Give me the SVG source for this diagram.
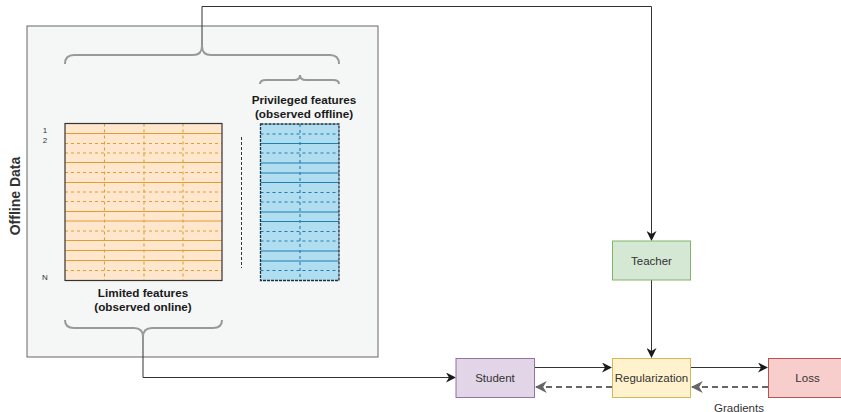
<svg xmlns="http://www.w3.org/2000/svg" width="841" height="412" viewBox="0 0 841 412">
<style>
  text { font-family: "Liberation Sans", Arial, sans-serif; fill: #333; }
  .lbl { font-size: 11.5px; text-anchor: middle; dominant-baseline: central; }
  .bold { font-size: 11.7px; font-weight: bold; text-anchor: middle; fill: #1a1a1a; }
  .brace { fill: none; stroke: #999; stroke-width: 2; }
  .conn { fill: none; stroke: #333; stroke-width: 1; }
  .back { fill: none; stroke: #666; stroke-width: 2; stroke-dasharray: 6 4; }
  .og { stroke: #dfa032; stroke-width: 1.1; }
  .bg { stroke: #1f7fae; stroke-width: 1.1; }
  .dsh { stroke-dasharray: 3 3; }
</style>
<defs>
  <marker id="ah" viewBox="0 0 10 10" refX="9" refY="5" markerWidth="10" markerHeight="10" markerUnits="userSpaceOnUse" orient="auto">
    <path d="M0,0 L10,5 L0,10 L3,5 Z" fill="#1a1a1a"/>
  </marker>
  <marker id="ahg" viewBox="0 0 10 10" refX="9" refY="5" markerWidth="12" markerHeight="12" markerUnits="userSpaceOnUse" orient="auto">
    <path d="M0,0 L10,5 L0,10 L3,5 Z" fill="#666"/>
  </marker>
</defs>

<g id="offline-panel">
  <rect x="27" y="26" width="351" height="331" fill="#f5f6f6" stroke="#666" stroke-width="1"/>
  <text transform="translate(20,196) rotate(-90)" font-size="14" font-weight="bold" text-anchor="middle" fill="#1a1a1a">Offline Data</text>
</g>

<g id="braces">
  <path class="brace" d="M65,64 Q65,55 74,55 L193,55 Q202,55 202,46 Q202,55 211,55 L330,55 Q339,55 339,64"/>
  <path class="brace" d="M260,84 Q260,80 266,80 L294,80 Q300,80 300,75 Q300,80 306,80 L333,80 Q339,80 339,84"/>
  <path class="brace" d="M65,320 Q65,328 74,328 L134,328 Q143,328 143,337 Q143,328 152,328 L213,328 Q222,328 222,320"/>
</g>

<g id="limited-matrix">
  <rect x="65" y="123.5" width="157" height="157" fill="#ffe6cc"/>
  <g class="og dsh">
    <line x1="104.5" y1="123.5" x2="104.5" y2="280.5"/>
    <line x1="144" y1="123.5" x2="144" y2="280.5"/>
    <line x1="183" y1="123.5" x2="183" y2="280.5"/>
  </g>
  <g class="og">
    <line x1="65" y1="133.5" x2="222" y2="133.5"/>
    <line x1="65" y1="162.5" x2="222" y2="162.5"/>
    <line x1="65" y1="182.5" x2="222" y2="182.5"/>
    <line x1="65" y1="211.5" x2="222" y2="211.5"/>
    <line x1="65" y1="221" x2="222" y2="221"/>
    <line x1="65" y1="240.5" x2="222" y2="240.5"/>
    <line x1="65" y1="250.5" x2="222" y2="250.5"/>
    <line x1="65" y1="260.5" x2="222" y2="260.5"/>
  </g>
  <g class="og dsh">
    <line x1="65" y1="143.5" x2="222" y2="143.5"/>
    <line x1="65" y1="153" x2="222" y2="153"/>
    <line x1="65" y1="172.5" x2="222" y2="172.5"/>
    <line x1="65" y1="192" x2="222" y2="192"/>
    <line x1="65" y1="201.5" x2="222" y2="201.5"/>
    <line x1="65" y1="231" x2="222" y2="231"/>
    <line x1="65" y1="270.5" x2="222" y2="270.5"/>
  </g>
  <rect x="65" y="123.5" width="157" height="157" fill="none" stroke="#333" stroke-width="1.2"/>
  <text x="45" y="133" font-size="8" text-anchor="middle">1</text>
  <text x="45" y="143" font-size="8" text-anchor="middle">2</text>
  <text x="45" y="280" font-size="8" text-anchor="middle">N</text>
  <text class="bold" x="143" y="297">Limited features</text>
  <text class="bold" x="143" y="311">(observed online)</text>
</g>

<g id="separator">
  <line x1="241.5" y1="137" x2="241.5" y2="268" stroke="#333" stroke-width="1" stroke-dasharray="3 2"/>
</g>

<g id="privileged-matrix">
  <rect x="260.5" y="124" width="78.5" height="156.5" fill="#b1ddf0"/>
  <line class="bg dsh" x1="300" y1="124" x2="300" y2="280.5"/>
  <g class="bg">
    <line x1="260.5" y1="143.5" x2="339" y2="143.5"/>
    <line x1="260.5" y1="163" x2="339" y2="163"/>
    <line x1="260.5" y1="173" x2="339" y2="173"/>
    <line x1="260.5" y1="182.5" x2="339" y2="182.5"/>
    <line x1="260.5" y1="212" x2="339" y2="212"/>
    <line x1="260.5" y1="221.5" x2="339" y2="221.5"/>
    <line x1="260.5" y1="251" x2="339" y2="251"/>
    <line x1="260.5" y1="261" x2="339" y2="261"/>
  </g>
  <g class="bg dsh">
    <line x1="260.5" y1="134" x2="339" y2="134"/>
    <line x1="260.5" y1="153" x2="339" y2="153"/>
    <line x1="260.5" y1="192.5" x2="339" y2="192.5"/>
    <line x1="260.5" y1="202" x2="339" y2="202"/>
    <line x1="260.5" y1="231.5" x2="339" y2="231.5"/>
    <line x1="260.5" y1="241" x2="339" y2="241"/>
    <line x1="260.5" y1="270.5" x2="339" y2="270.5"/>
  </g>
  <rect x="260.5" y="124" width="78.5" height="156.5" fill="none" stroke="#1a3140" stroke-width="1.3" stroke-dasharray="3 1"/>
  <text class="bold" x="304" y="104">Privileged features</text>
  <text class="bold" x="304" y="118">(observed offline)</text>
</g>

<g id="connectors">
  <path class="conn" d="M202,46 L202,6.5 L651.5,6.5 L651.5,240" marker-end="url(#ah)"/>
  <path class="conn" d="M143,337 L143,377.5 L455,377.5" marker-end="url(#ah)"/>
  <path class="conn" d="M651.5,280 L651.5,357" marker-end="url(#ah)"/>
  <path class="conn" d="M535,367.5 L611,367.5" marker-end="url(#ah)"/>
  <path class="conn" d="M691,367.5 L767,367.5" marker-end="url(#ah)"/>
  <path class="back" d="M768,387 L692,387" marker-end="url(#ahg)"/>
  <path class="back" d="M612,387 L536,387" marker-end="url(#ahg)"/>
  <text x="739" y="411.5" font-size="11.5" text-anchor="middle">Gradients</text>
</g>

<g id="teacher">
  <rect x="612.5" y="241" width="78" height="39" fill="#d5e8d4" stroke="#82b366"/>
  <text class="lbl" x="651.5" y="261">Teacher</text>
</g>
<g id="student">
  <rect x="456" y="358.5" width="78.5" height="39" fill="#e1d5e7" stroke="#9673a6"/>
  <text class="lbl" x="495" y="378">Student</text>
</g>
<g id="regularization">
  <rect x="612.5" y="358.5" width="78" height="39" fill="#fff2cc" stroke="#d6b656"/>
  <text class="lbl" x="651.5" y="378">Regularization</text>
</g>
<g id="loss">
  <rect x="768.5" y="358.5" width="78" height="39" fill="#f8cecc" stroke="#b85450"/>
  <text class="lbl" x="807.5" y="378">Loss</text>
</g>
</svg>
